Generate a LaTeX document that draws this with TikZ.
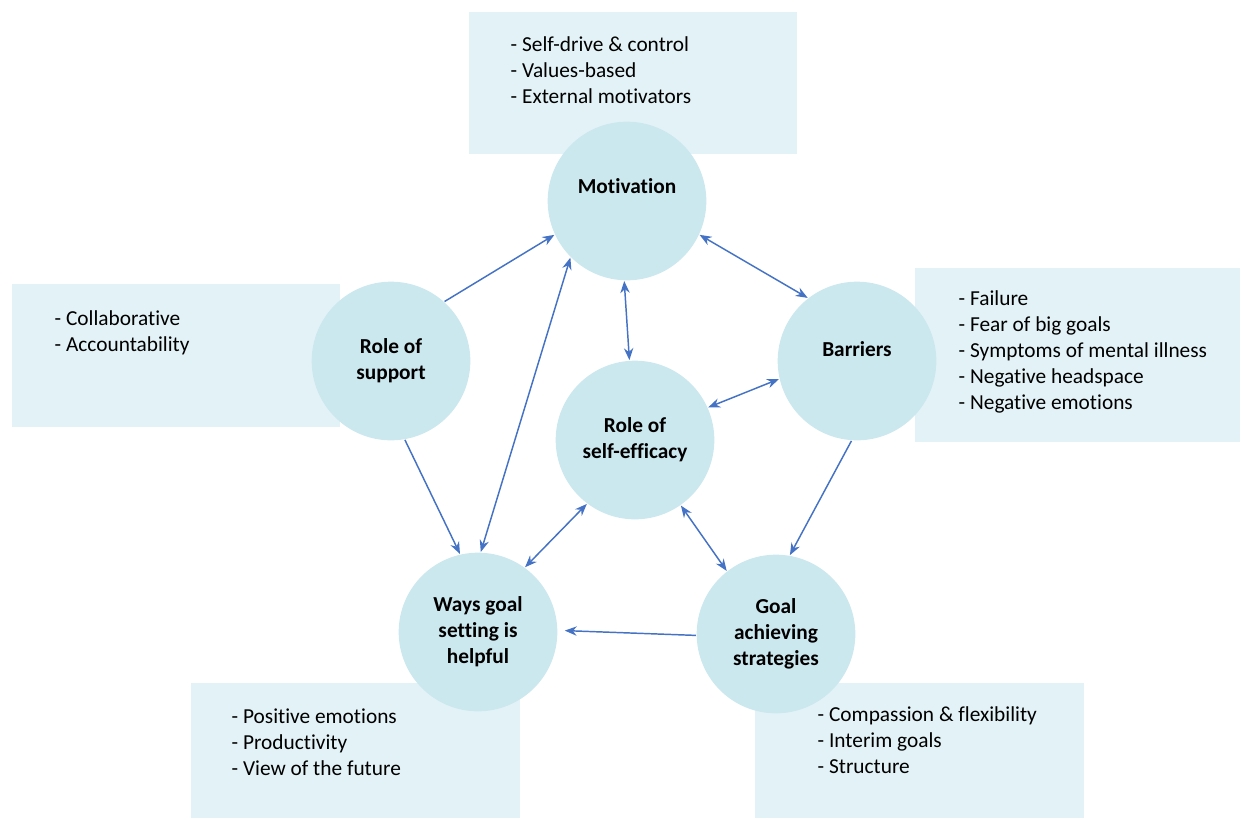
\documentclass[tikz,border=0pt]{standalone}
\usepackage{fontspec}
\setmainfont{Carlito}[Ligatures=NoCommon]
\usetikzlibrary{arrows.meta}
\definecolor{boxfill}{HTML}{E3F2F6}
\definecolor{circfill}{HTML}{CCE8EF}
\definecolor{arrowblue}{HTML}{4472C4}
\begin{document}
\begin{tikzpicture}[x=0.75pt, y=-0.75pt, line width=1.1pt,
  theme node/.style={circle,fill=circfill,minimum size=119pt,inner sep=0pt,align=center,font=\fontsize{16}{19.5}\selectfont\bfseries},
  note box/.style={fill=boxfill},
  note text/.style={anchor=north west,align=left,inner sep=0pt,font=\fontsize{16}{19.5}\selectfont},
  link/.style={draw=arrowblue,-{Stealth[length=9pt,width=7pt]}},
  both/.style={draw=arrowblue,{Stealth[length=9pt,width=7pt]}-{Stealth[length=9pt,width=7pt]}}]
\useasboundingbox (0,0) rectangle (1241,820);
% shaded boxes behind the circles
\fill [note box] (469,12) rectangle (797,154);
\fill [note box] (12,284) rectangle (340,427);
\fill [note box] (915,268) rectangle (1240,442);
\fill [note box] (191,683) rectangle (520,818);
\fill [note box] (755,683) rectangle (1084,818);
\begin{scope}[every node/.style={note text}]
\node (tmot) at (510,36) {- Self-drive \& control\\- Values-based\\- External motivators};
\node (tsup) at (54,310) {- Collaborative\\- Accountability};
\node (tbar) at (958,290) {- Failure\\- Fear of big goals\\- Symptoms of mental illness\\- Negative headspace\\- Negative emotions};
\node (tways) at (231,708) {- Positive emotions\\- Productivity\\- View of the future};
\node (tgoal) at (817,706) {- Compassion \& flexibility\\- Interim goals\\- Structure};
\end{scope}
% themes
\node [theme node](mot) at (627,201) {Motivation\\[3pt]};
\node [theme node](sup) at (391,361) {Role of\\support};
\node [theme node](bar) at (857,361) {Barriers\\[-2pt]};
\node [theme node](eff) at (635,440) {Role of\\self-efficacy};
\node [theme node](ways) at (478,632) {Ways goal\\setting is\\helpful};
\node [theme node](goal) at (776,634) {Goal\\achieving\\strategies};
\path
	(sup.48) edge [link] (mot.205)
	(sup.280) edge [link] (ways.103)
	(mot.335) edge [both] (bar.128)
	(mot.268) edge [both] (eff.94)
	(eff.24) edge [both] (bar.193)
	(ways.88) edge [both] (mot.225)
	(eff.233) edge [both] (ways.54)
	(eff.305) edge [both] (goal.128)
	(bar.266) edge [link] (goal.80)
	(goal.181) edge [link] ([xshift=5pt]ways.1)
	;
\end{tikzpicture}
\end{document}
